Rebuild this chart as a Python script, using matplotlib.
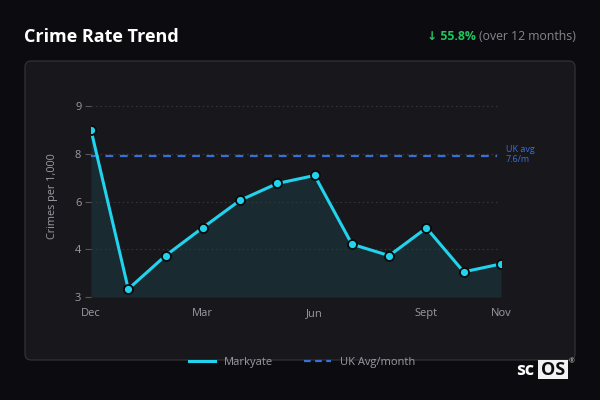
import matplotlib.pyplot as plt
from matplotlib.patches import FancyBboxPatch, Rectangle
from matplotlib.lines import Line2D

plt.rcParams['font.family'] = ['Open Sans', 'DejaVu Sans']

# data
months = ['Dec', 'Jan', 'Feb', 'Mar', 'Apr', 'May', 'Jun', 'Jul', 'Aug', 'Sept', 'Oct', 'Nov']
crime_rate = [8.25, 3.25, 4.30, 5.18, 6.04, 6.57, 6.82, 4.66, 4.30, 5.17, 3.79, 4.04]
uk_avg = 7.42
tick_vals = [3, 4.5, 6, 7.5, 9]
tick_labels = ['3', '4', '6', '8', '9']
shown_months = ['Dec', 'Mar', 'Jun', 'Sept', 'Nov']

bg = '#0c0c10'
panel = '#18181c'
cyan = '#22d3ee'
blue = '#3b6fd8'
grey = '#9a9aa2'

fig = plt.figure(figsize=(6, 4), dpi=100, facecolor=bg)

# background layer in pixel coords
bgax = fig.add_axes([0, 0, 1, 1], zorder=0)
bgax.set_xlim(0, 600)
bgax.set_ylim(400, 0)
bgax.axis('off')
bgax.add_patch(FancyBboxPatch((25, 61), 550, 299, boxstyle='round,pad=0,rounding_size=6',
                              facecolor=panel, edgecolor='#34343a', linewidth=0.8))
bgax.text(24, 37, 'Crime Rate Trend', color='white', fontsize=13, fontweight='bold',
          va='center', ha='left')
sub = bgax.text(576, 37, '(over 12 months)', color='#85858c', fontsize=8.8, va='center', ha='right')
fig.canvas.draw()
bb = sub.get_window_extent()
bgax.text(bb.x0 - 3, 37, '↓ 55.8%', color='#22c55e', fontsize=8.8, fontweight='bold',
          va='center', ha='right')

# scOS logo
bgax.text(516, 370, 'sc', color='white', fontsize=13, fontweight='bold', va='center', ha='left')
bgax.add_patch(Rectangle((538, 360), 30, 19, facecolor='#f2f2f2', edgecolor='none'))
bgax.text(553, 370, 'OS', color='#0c0c10', fontsize=13, fontweight='bold', va='center', ha='center')
bgax.text(572, 362, '®', color='#cccccc', fontsize=5, va='center', ha='center')

# main chart
ax = fig.add_axes([91 / 600, 103 / 400, 410 / 600, 202 / 400], zorder=1)
ax.set_facecolor('none')
x = list(range(len(months)))
ax.fill_between(x, crime_rate, 3, color=cyan, alpha=0.1, linewidth=0)
ax.plot(x, crime_rate, color=cyan, linewidth=2.2, marker='o', markersize=6.5,
        markerfacecolor=cyan, markeredgecolor='#0a0a0a', markeredgewidth=1.3, zorder=3)
ax.plot([0, 10.9], [uk_avg, uk_avg], color=blue, linewidth=1.6, linestyle=(0, (3.5, 3)), zorder=2)
ax.text(11.13, uk_avg + 0.05, 'UK avg\n7.6/m', color=blue, fontsize=6.5, va='center', ha='left',
        linespacing=1.1)

ax.set_xlim(0, 11)
ax.set_ylim(3, 9.35)
ax.set_yticks(tick_vals)
ax.set_yticklabels(tick_labels)
ax.set_xticks([months.index(m) for m in shown_months])
ax.set_xticklabels(shown_months)
ax.tick_params(axis='y', colors='#55555c', labelcolor=grey, labelsize=8, length=4, width=0.8, pad=3)
ax.tick_params(axis='x', length=0, labelcolor=grey, labelsize=8, pad=8)
for v in tick_vals:
    ax.plot([0, 10.9], [v, v], color='#34343a', linewidth=0.8, linestyle=(0, (1.5, 2.5)), zorder=1)
for s in ax.spines.values():
    s.set_visible(False)
ax.set_ylabel('Crimes per 1,000', color=grey, fontsize=7.8, labelpad=12)

handles = [Line2D([], [], color=cyan, linewidth=2.2),
           Line2D([], [], color=blue, linewidth=1.6, linestyle=(0, (3, 2)))]
fig.legend(handles, ['Markyate', 'UK Avg/month'], loc='center', bbox_to_anchor=(302 / 600, 38 / 400),
           ncol=2, frameon=False, labelcolor=grey, fontsize=8, handlelength=2.4, columnspacing=2.8)

fig.savefig('out.png', dpi=100, facecolor=bg)
